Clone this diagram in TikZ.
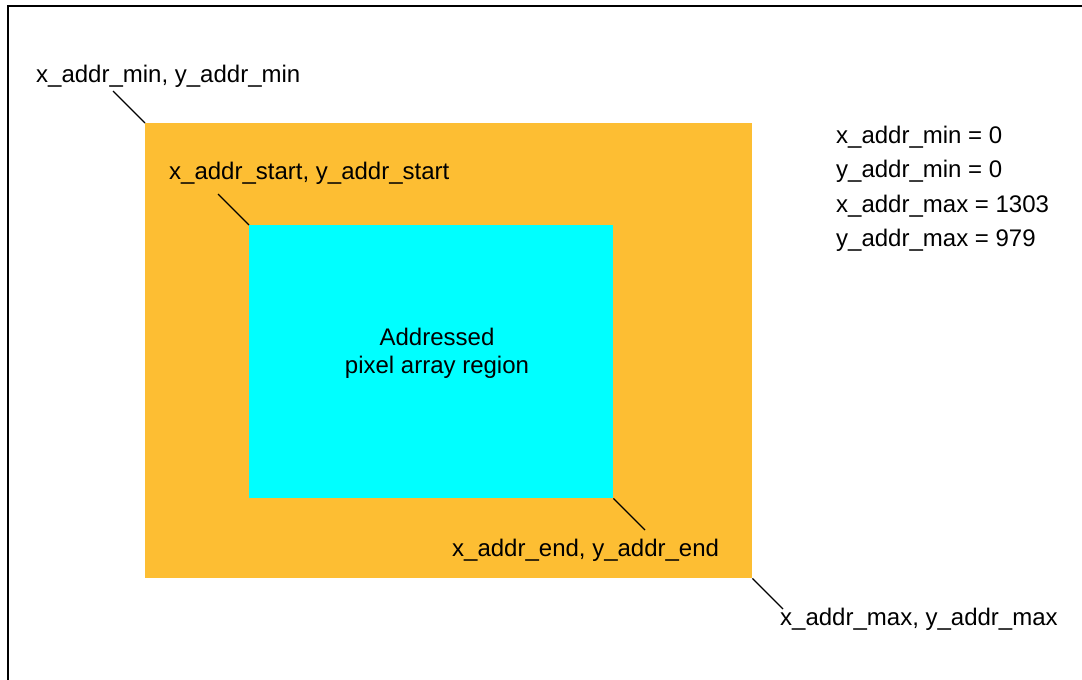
\documentclass[tikz,border=0pt]{standalone}
\usepackage{fontspec}
\setmainfont{Liberation Sans}
\definecolor{orangefill}{RGB}{253,190,51}
\definecolor{cyanfill}{RGB}{0,255,255}
\begin{document}
\begin{tikzpicture}[x=1pt,y=-1pt,
  lbl/.style={anchor=base west,inner sep=0pt,font=\fontsize{24}{28}\selectfont},
  ctr/.style={anchor=base,inner sep=0pt,font=\fontsize{24}{28}\selectfont},
  leader/.style={line width=1.2pt,black},
  frameline/.style={line width=2.2pt,black}]
\useasboundingbox (0,0) rectangle (1082,680);
% frame
\coordinate (fb) at (8,681);
\coordinate (fc) at (8,6);
\coordinate (fr) at (1083,6);
\draw[frameline] (fb) -- (fc) -- (fr);
% rectangles
\node[fill=orangefill,draw=none,inner sep=0pt,minimum width=607pt,minimum height=455pt,anchor=north west] (outer) at (145,123) {};
\node[fill=cyanfill,draw=none,inner sep=0pt,minimum width=364pt,minimum height=273pt,anchor=north west] (inner) at (249,225) {};
% region text
\node[ctr] (t1) at (437,345) {Addressed};
\node[ctr] (t2) at (437,373) {pixel array region};
% corner labels
\node[lbl] (lmin) at (36,82) {x\_addr\_min, y\_addr\_min};
\node[lbl] (lstart) at (169,179.5) {x\_addr\_start, y\_addr\_start};
\node[lbl] (lend) at (452,556) {x\_addr\_end, y\_addr\_end};
\node[lbl] (lmax) at (780,625) {x\_addr\_max, y\_addr\_max};
% value list
\node[lbl] (v1) at (836,143) {x\_addr\_min = 0};
\node[lbl] (v2) at (836,177.5) {y\_addr\_min = 0};
\node[lbl] (v3) at (836,212) {x\_addr\_max = 1303};
\node[lbl] (v4) at (836,246.5) {y\_addr\_max = 979};
% leader ends
\coordinate (cmin) at (113,91);
\coordinate (cstart) at (218,194);
\coordinate (cend) at (645,530);
\coordinate (cmax) at (783,609);
\draw[leader] (cmin) -- (outer.north west);
\draw[leader] (cstart) -- (inner.north west);
\draw[leader] (inner.south east) -- (cend);
\draw[leader] (outer.south east) -- (cmax);
\end{tikzpicture}
\end{document}
